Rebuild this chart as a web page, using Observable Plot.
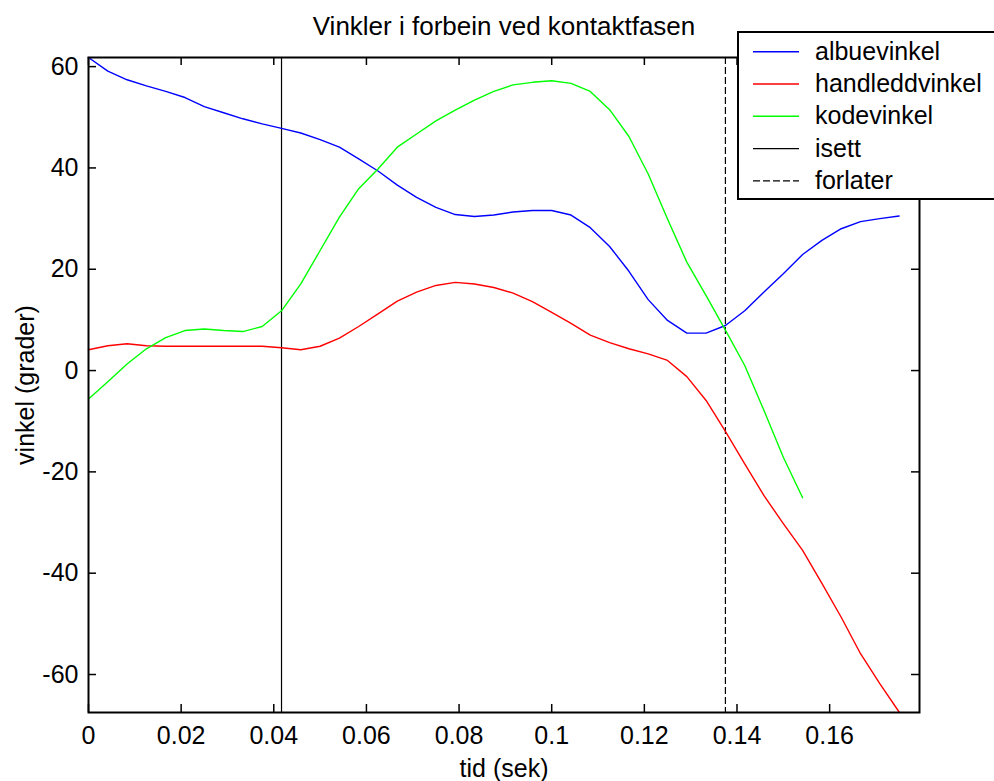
<!DOCTYPE html>
<html><head><meta charset="utf-8">
<script src="https://cdn.jsdelivr.net/npm/d3@7"></script>
<script src="https://cdn.jsdelivr.net/npm/@observablehq/plot@0.6"></script>
<style>
html,body{margin:0;padding:0;background:#fff;}
#chart{position:relative;width:994px;height:781px;overflow:hidden;}
</style>
</head><body><div id="chart"></div>
<script>
// ---- data ----
const tid = [0, 0.00417, 0.00833, 0.0125, 0.01667, 0.02083, 0.025, 0.02917, 0.03333, 0.0375,
  0.04167, 0.04583, 0.05, 0.05417, 0.05833, 0.0625, 0.06667, 0.07083, 0.075, 0.07917,
  0.08333, 0.0875, 0.09167, 0.09583, 0.1, 0.10417, 0.10833, 0.1125, 0.11667, 0.12083,
  0.125, 0.12917, 0.13333, 0.1375, 0.14167, 0.14583, 0.15, 0.15417, 0.15833, 0.1625,
  0.16667, 0.17083, 0.175];
const albuevinkel = [61.8, 59.1, 57.4, 56.2, 55.1, 53.9, 52.1, 50.9, 49.7, 48.7,
  47.8, 46.9, 45.6, 44.1, 41.8, 39.4, 36.6, 34.2, 32.2, 30.8,
  30.4, 30.7, 31.3, 31.6, 31.6, 30.7, 28.2, 24.5, 19.6, 14.0,
  9.9, 7.4, 7.4, 8.9, 11.8, 15.5, 19.1, 22.9, 25.7, 28.0,
  29.4, 30.0, 30.5];
const handleddvinkel = [4.1, 4.9, 5.3, 4.9, 4.8, 4.8, 4.8, 4.8, 4.8, 4.8,
  4.5, 4.1, 4.8, 6.4, 8.7, 11.2, 13.7, 15.5, 16.8, 17.4,
  17.1, 16.4, 15.3, 13.6, 11.5, 9.3, 7.0, 5.5, 4.3, 3.3,
  2.0, -1.2, -5.9, -12.0, -18.4, -24.7, -30.2, -35.5, -42.0, -48.7,
  -55.9, -61.8, -67.4];
const kodevinkel = [-5.6, -2.2, 1.3, 4.3, 6.5, 7.9, 8.2, 7.9, 7.7, 8.7,
  11.8, 17.1, 23.7, 30.3, 35.9, 39.8, 44.1, 46.7, 49.3, 51.4,
  53.4, 55.1, 56.4, 56.9, 57.2, 56.7, 55.1, 51.5, 46.2, 38.8,
  29.9, 21.4, 14.8, 8.0, 1.0, -7.9, -17.1, -25.1];
const seriesNames = ["albuevinkel", "handleddvinkel", "kodevinkel"];
const seriesColors = ["#0000ff", "#ff0000", "#00ff00"];
const isettTid = 0.04167;
const forlaterTid = 0.1375;
const markerNames = ["isett", "forlater"];
const xTicks = [0, 0.02, 0.04, 0.06, 0.08, 0.1, 0.12, 0.14, 0.16];
const yTicks = [-60, -40, -20, 0, 20, 40, 60];
const xDomain = [0, 0.1794];
const yDomain = [-67.5, 61.8];
const titleText = "Vinkler i forbein ved kontaktfasen";
const xLabel = "tid (sek)";
const yLabel = "vinkel (grader)";

// ---- table ----
const rows = [];
[albuevinkel, handleddvinkel, kodevinkel].forEach((vals, s) =>
  vals.forEach((v, i) => rows.push({serie: seriesNames[s], t: tid[i], v})));

const W = 994, H = 781, mL = 88, mR = 75, mT = 57, mB = 69;
const pw = W - mL - mR, ph = H - mT - mB;
const fs = 25, tickLen = 8;
const fmt = d => d < 0 ? "-" + String(-d) : String(d);

const plot = Plot.plot({
  width: W, height: H,
  marginLeft: mL, marginRight: mR, marginTop: mT, marginBottom: mB,
  style: {fontFamily: "'Liberation Sans', Arial, sans-serif", fontSize: fs + "px", background: "white", color: "black", overflow: "visible"},
  x: {domain: xDomain},
  y: {domain: yDomain},
  color: {domain: seriesNames, range: seriesColors},
  marks: [
    Plot.ruleX([isettTid], {x: d => d, stroke: "black", strokeWidth: 1.2}),
    Plot.ruleX([forlaterTid], {x: d => d, stroke: "black", strokeWidth: 1.2, strokeDasharray: "7,3"}),
    Plot.line(rows, {x: "t", y: "v", z: "serie", stroke: "serie", strokeWidth: 1.4}),
    Plot.tickX(xTicks, {x: d => d, insetTop: ph - tickLen, stroke: "black", strokeWidth: 1.5}),
    Plot.tickX(xTicks, {x: d => d, insetBottom: ph - tickLen, stroke: "black", strokeWidth: 1.5}),
    Plot.tickY(yTicks, {y: d => d, insetRight: pw - tickLen, stroke: "black", strokeWidth: 1.5}),
    Plot.tickY(yTicks, {y: d => d, insetLeft: pw - tickLen, stroke: "black", strokeWidth: 1.5}),
    Plot.axisX(xTicks, {tickSize: 0, tickPadding: 14, tickFormat: fmt, label: null, fontSize: fs}),
    Plot.axisY(yTicks, {tickSize: 0, tickPadding: 10, tickFormat: fmt, label: null, fontSize: fs}),
    Plot.frame({stroke: "black", strokeWidth: 2}),
    Plot.text([titleText], {text: d => d, frameAnchor: "top", dy: -23, lineAnchor: "bottom", textAnchor: "middle", fontSize: 26, fill: "black"}),
    Plot.text([xLabel], {text: d => d, frameAnchor: "bottom", dy: 64, lineAnchor: "bottom", textAnchor: "middle", fontSize: fs, fill: "black"}),
    Plot.text([yLabel], {text: d => d, frameAnchor: "left", dx: -55, rotate: -90, lineAnchor: "bottom", textAnchor: "middle", fontSize: fs, fill: "black"})
  ]
});

// ---- legend (drawn into the same svg) ----
const legendItems = seriesNames.map((n, i) => ({name: n, color: seriesColors[i], dash: null}))
  .concat([{name: markerNames[0], color: "black", dash: null}, {name: markerNames[1], color: "black", dash: "7,3"}]);
const svg = d3.select(plot);
const lg = svg.append("g")
  .attr("font-family", "'Liberation Sans', Arial, sans-serif")
  .attr("font-size", fs)
  .attr("text-anchor", "start");
const lx = 738, ly = 32, lh = 167, rowH = 32.3, row0 = 51.7;
lg.append("rect").attr("x", lx).attr("y", ly).attr("width", W - lx + 20).attr("height", lh)
  .attr("fill", "white").attr("stroke", "black").attr("stroke-width", 2);
legendItems.forEach((it, i) => {
  const cy = row0 + i * rowH;
  lg.append("line").attr("x1", lx + 15).attr("x2", lx + 61).attr("y1", cy).attr("y2", cy)
    .attr("stroke", it.color).attr("stroke-width", 1.4).attr("stroke-dasharray", it.dash);
  lg.append("text").attr("x", lx + 77).attr("y", cy + 8).attr("fill", "black")
    .attr("text-anchor", "start").text(it.name);
});

document.getElementById("chart").appendChild(plot);
</script>
</body></html>
